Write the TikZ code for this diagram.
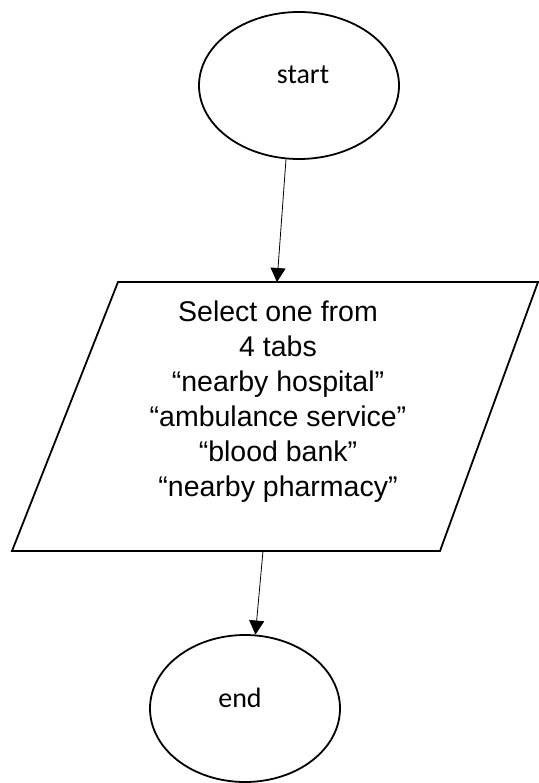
\documentclass[tikz,border=0pt]{standalone}
\usepackage{fontspec}
\setmainfont{Liberation Sans}
\newfontfamily\calib{Carlito}
\usetikzlibrary{shapes.geometric,arrows.meta}
\begin{document}
\begin{tikzpicture}[x=1pt,y=-1pt,
  term/.style={ellipse,draw,line width=1.8pt,minimum width=200pt,minimum height=147pt,inner sep=0pt},
  termtext/.style={font=\calib\fontsize{28}{34}\selectfont},
  conn/.style={line width=0.8pt,-{Triangle[width=15pt,length=14pt]}},
  iobox/.style={line width=1.8pt,line join=miter}]
\useasboundingbox (0,0) rectangle (538,783);
\node[term] (start) at (299,85.5) {};
\node[termtext] (starttext) at (303,75) {start};
\node[term,minimum width=190pt] (end) at (245,708.5) {};
\node[termtext] (endtext) at (240,698) {end};
\coordinate (p1) at (118,282);
\coordinate (p2) at (538,282);
\coordinate (p3) at (440,551);
\coordinate (p4) at (12,551);
\draw[iobox] (p1) -- (p2) -- (p3) -- (p4) -- cycle;
\node[align=center,font=\fontsize{28.5}{35}\selectfont] (io) at (278,402)
  {Select one from\\4 tabs\\“nearby hospital”\\“ambulance service”\\“blood bank”\\“nearby pharmacy”};
\coordinate (in1) at (277,282);
\coordinate (out1) at (263,551);
\draw[conn] (start.260) -- (in1);
\draw[conn] (out1) -- (end.82);
\end{tikzpicture}
\end{document}
